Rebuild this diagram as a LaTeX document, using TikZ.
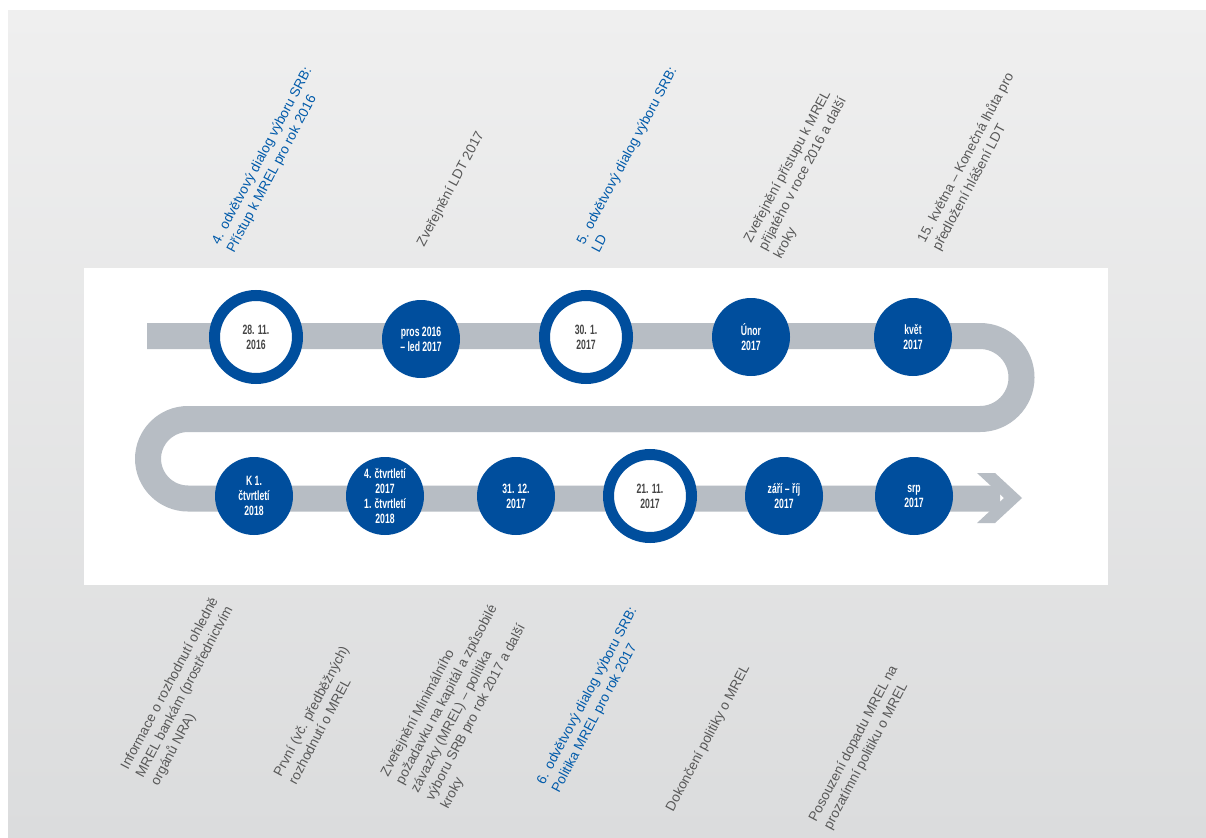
\documentclass[tikz,border=0pt]{standalone}
\usepackage{fontspec}
\setmainfont{Liberation Sans}
\newfontfamily\datefont[FakeStretch=0.64]{Liberation Sans}
\usetikzlibrary{calc}
\definecolor{dotblue}{RGB}{0,78,157}
\definecolor{lblblue}{RGB}{0,90,170}
\definecolor{lblgray}{RGB}{88,88,88}
\definecolor{ringtext}{RGB}{70,70,70}
\definecolor{track}{RGB}{183,189,196}
\definecolor{bgtop}{RGB}{239,239,239}
\definecolor{bgbot}{RGB}{219,220,221}
\tikzstyle{dot}=[circle, fill=dotblue, minimum size=78pt, inner sep=0pt, text=white, align=center, font=\datefont\bfseries\fontsize{13.5}{15}\selectfont]
\tikzstyle{ring}=[circle, fill=white, draw=dotblue, line width=11pt, minimum size=83pt, inner sep=0pt, text=ringtext, align=center, font=\datefont\bfseries\fontsize{13.5}{15}\selectfont]
\tikzstyle{annot}=[rotate=62, anchor=north west, inner sep=0pt, align=left, font=\fontsize{13.6}{17}\selectfont]
\newcommand{\milestone}[4]
{
  \node[annot, text=#3] (#1) at ($(#2)+(-8,-4.5)$) {#4};
}

\begin{document}
\begin{tikzpicture}[x=1pt, y=-1pt]
	\useasboundingbox (0,0) rectangle (1206,837);
	\shade[top color=bgtop, bottom color=bgbot] (8,11) rectangle (1206,837);
	\fill[white] (84,268) rectangle (1108,585);

	% track
	\draw[track, line width=26pt, rounded corners=41.5pt] (147,336) -- (1021.5,336) -- (1021.5,419) -- (600,419);
	\draw[track, line width=26pt, rounded corners=40pt] (900,419) -- (148,419) -- (148,498.5) -- (1000,498.5);
	\fill[track] (977,473) -- (995,473) -- (1022,498) -- (995,523) -- (977,523) -- (1004,498) -- cycle;

	% top row
	\node[ring] (d1) at (256,337) {28. 11.\\2016};
	\node[dot]  (d2) at (421,339) {pros 2016\\– led 2017};
	\node[ring] (d3) at (586,337) {30. 1.\\2017};
	\node[dot]  (d4) at (751,337) {Únor\\2017};
	\node[dot]  (d5) at (913,337) {květ\\2017};

	% bottom row
	\node[dot]  (e1) at (254,496) {K 1.\\čtvrtletí\\2018};
	\node[dot]  (e2) at (385,496) {4. čtvrtletí\\2017\\1. čtvrtletí\\2018};
	\node[dot]  (e3) at (516,496) {31. 12.\\2017};
	\node[ring] (e4) at (650,496) {21. 11.\\2017};
	\node[dot]  (e5) at (784,496) {září – říj\\2017};
	\node[dot]  (e6) at (914,496) {srp\\2017};

	\milestone{t1}{218,245}{lblblue}{4. odvětvový dialog výboru SRB:\\Přístup k MREL pro rok 2016}
	\milestone{t2}{423,247}{lblgray}{Zveřejnění LDT 2017}
	\milestone{t3}{583,245}{lblblue}{5. odvětvový dialog výboru SRB:\\LD}
	\milestone{t4}{750,243}{lblgray}{Zveřejnění přístupu k MREL\\přijatého v roce 2016 a další\\kroky}
	\milestone{t5}{923,243}{lblgray}{15. května – Konečná lhůta pro\\předložení hlášení LDT}

	\milestone{b1}{127,770}{lblgray}{Informace o rozhodnutí ohledně\\MREL bankám (prostřednictvím\\orgánů NRA)}
	\milestone{b2}{280,777}{lblgray}{První (vč. předběžných)\\rozhodnutí o MREL}
	\milestone{b3}{387,777}{lblgray}{Zveřejnění Minimálního\\požadavku na kapitál a způsobilé\\závazky (MREL) – politika\\výboru SRB pro rok 2017 a další\\kroky}
	\milestone{b4}{543,785}{lblblue}{6. odvětvový dialog výboru SRB:\\Politika MREL pro rok 2017}
	\milestone{b5}{672,812}{lblgray}{Dokončení politiky o MREL}
	\milestone{b6}{815,822}{lblgray}{Posouzení dopadu MREL na\\prozatímní politiku o MREL}
\end{tikzpicture}
\end{document}
